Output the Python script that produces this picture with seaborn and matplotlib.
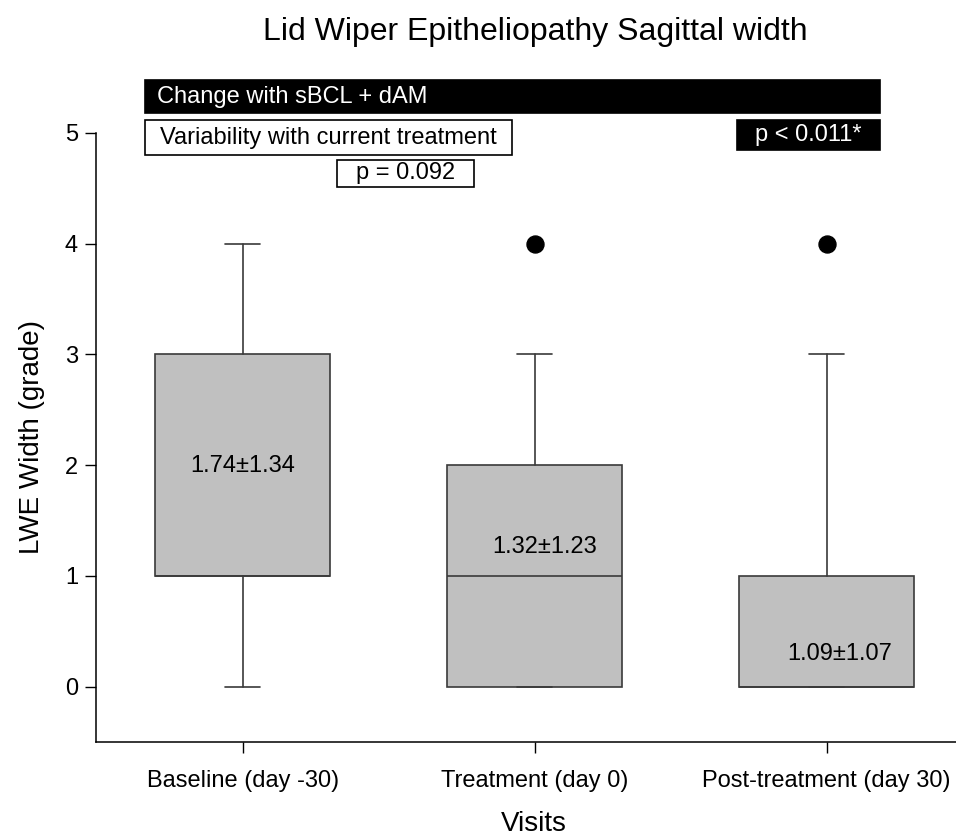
import matplotlib
matplotlib.use("Agg")
import matplotlib.pyplot as plt
import seaborn as sns
import pandas as pd
from matplotlib.patches import Rectangle

# ---- data ----
visits = ["Baseline (day -30)", "Treatment (day 0)", "Post-treatment (day 30)"]
whisker_low = [0, 0, 0]
q1 = [1, 0, 0]
median = [1, 1, 0]
q3 = [3, 2, 1]
whisker_high = [4, 3, 3]
outlier_visit = ["Treatment (day 0)", "Post-treatment (day 30)"]
outlier_value = [4, 4]
mean_sd_labels = ["1.74\u00b11.34", "1.32\u00b11.23", "1.09\u00b11.07"]
label_y = [1.99, 1.26, 0.29]
yticks = [0, 1, 2, 3, 4, 5]

sns.set_style("ticks")
plt.rcParams['font.family'] = ['Liberation Sans', 'DejaVu Sans']
plt.rcParams['text.color'] = 'black'
plt.rcParams['axes.labelcolor'] = 'black'

fig = plt.figure(figsize=(9.56, 8.40), dpi=100)
ax = fig.add_axes([0.1004, 0.1167, 0.917, 0.725])

stats = []
for i, v in enumerate(visits):
    stats.append(dict(label=v, whislo=whisker_low[i], q1=q1[i], med=median[i],
                      q3=q3[i], whishi=whisker_high[i], fliers=[]))
pos = list(range(len(visits)))
edge = "#3a3a3a"
ax.bxp(stats, positions=pos, widths=0.6, capwidths=0.12, patch_artist=True,
       showfliers=False,
       boxprops=dict(facecolor="#c0c0c0", edgecolor=edge, linewidth=1.2),
       medianprops=dict(color=edge, linewidth=1.2),
       whiskerprops=dict(color=edge, linewidth=1.2),
       capprops=dict(color=edge, linewidth=1.2))

out_df = pd.DataFrame({"x": [visits.index(v) for v in outlier_visit], "y": outlier_value})
sns.scatterplot(data=out_df, x="x", y="y", ax=ax, color="black", s=150,
                edgecolor="black", zorder=5, legend=False)

offs = [0.0, 0.035, 0.045]
for i, t in enumerate(mean_sd_labels):
    ax.text(i + offs[i], label_y[i], t, ha="center", va="center", fontsize=17)

ax.set_xlim(-0.503, 2.5)
ax.set_ylim(-0.5, 5.0)
ax.set_yticks(yticks)
ax.set_xticks(pos)
ax.set_xticklabels(visits)
ax.tick_params(axis="both", direction="out", length=8, width=1, colors="black",
               labelsize=17, pad=5)
ax.tick_params(axis="x", pad=12)
for s in ["top", "right"]:
    ax.spines[s].set_visible(False)
for s in ["left", "bottom"]:
    ax.spines[s].set_linewidth(1.1)
    ax.spines[s].set_color("black")
ax.set_xlabel("Visits", fontsize=20, labelpad=14)
ax.set_ylabel("LWE Width (grade)", fontsize=20, labelpad=14)

fig.text(0.56, 0.962, "Lid Wiper Epitheliopathy Sagittal width", ha="center",
         va="center", fontsize=23)

# annotation boxes (data coords)
def box(x0, x1, y0, y1, text, dark, ha="center", tx=None):
    r = Rectangle((x0, y0), x1 - x0, y1 - y0, facecolor="black" if dark else "white",
                  edgecolor="black", linewidth=1.2, clip_on=False, zorder=6)
    ax.add_patch(r)
    if tx is None:
        tx = (x0 + x1) / 2
    ax.text(tx, (y0 + y1) / 2, text, ha=ha, va="center", fontsize=17,
            color="white" if dark else "black", zorder=7, clip_on=False)

box(-0.336, 2.182, 5.18, 5.478, "Change with sBCL + dAM", True, ha="left", tx=-0.295)
box(-0.336, 0.921, 4.80, 5.117, "Variability with current treatment", False)
box(0.322, 0.791, 4.513, 4.756, "p = 0.092", False)
box(1.692, 2.182, 4.846, 5.117, "p < 0.011*", True)

fig.savefig("out.png", dpi=100)
